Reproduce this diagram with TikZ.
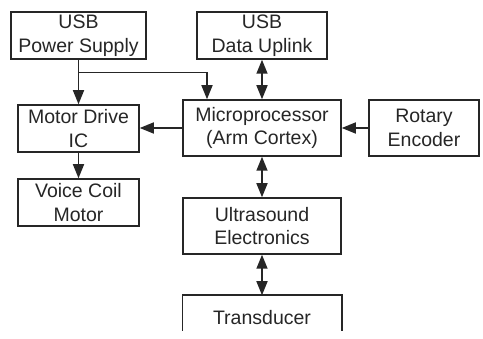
\documentclass[tikz,border=0pt]{standalone}
\usepackage{fontspec}
\setmainfont{Liberation Sans}
\usetikzlibrary{arrows.meta}
\definecolor{ink}{HTML}{262626}
\begin{document}
\begin{tikzpicture}[x=1pt,y=-1pt,
  box/.style={draw=ink, line width=1.5pt, rectangle, align=center, inner sep=0pt,
    text=ink, font=\fontsize{19.5}{23.5}\selectfont},
  arr/.style={draw=ink, line width=1.5pt, -{Triangle[length=14pt,width=11pt]}},
  darr/.style={draw=ink, line width=1.5pt, {Triangle[length=14pt,width=11pt]}-{Triangle[length=14pt,width=11pt]}}]
\useasboundingbox[fill=white] (0,0) rectangle (483,339);
\clip (0,0) rectangle (483,339);
\node[box, minimum width=135pt, minimum height=47pt] (ps) at (78.5,35.5) {USB\\Power Supply};
\node[box, minimum width=130pt, minimum height=47pt] (dl) at (262,35.5) {USB\\Data Uplink};
\node[box, minimum width=121pt, minimum height=47pt] (md) at (78.5,128.5) {Motor Drive\\IC};
\node[box, minimum width=158pt, minimum height=56pt] (mp) at (262,128) {Microprocessor\\(Arm Cortex)};
\node[box, minimum width=110pt, minimum height=56pt] (re) at (424,128) {Rotary\\Encoder};
\node[box, minimum width=121pt, minimum height=47pt] (vc) at (78.5,202.5) {Voice Coil\\Motor};
\node[box, minimum width=158pt, minimum height=56pt] (ue) at (262,226) {Ultrasound\\Electronics};
\node[box, draw=none, minimum width=158pt, minimum height=44pt] (tr) at (262,318) {Transducer};
\draw[draw=ink, line width=1.5pt] ([yshift=10pt]tr.south west) -- (tr.north west) -- (tr.north east) -- ([yshift=10pt]tr.south east);
\draw[arr] (ps.south) -- (md.north);
\path (ps.south) ++(0,13) coordinate (j);
\draw[arr] (j) -| ([xshift=-55pt]mp.north);
\draw[darr] (dl.south) -- (mp.north);
\draw[arr] (mp.west) -- (md.east |- mp.west);
\draw[arr] (re.west) -- (mp.east);
\draw[arr] (md.south) -- (vc.north);
\draw[darr] (mp.south) -- (ue.north);
\draw[darr] (ue.south) -- (tr.north);
\end{tikzpicture}
\end{document}
